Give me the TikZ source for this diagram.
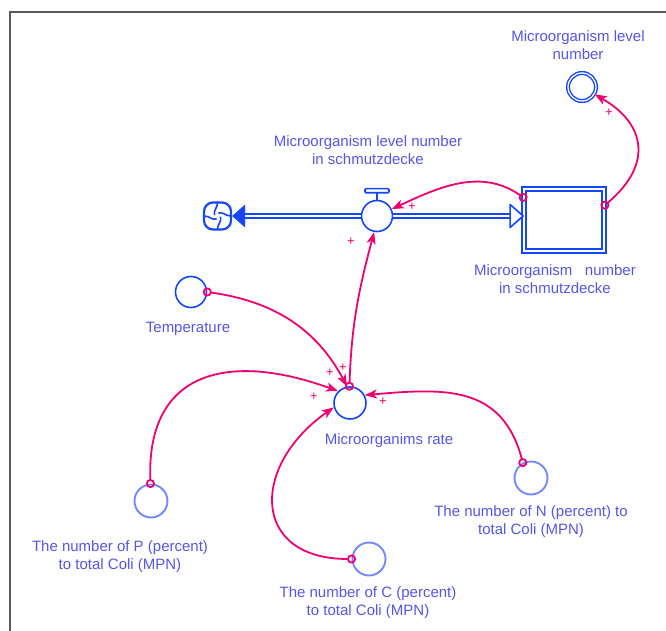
\documentclass[tikz,border=0pt]{standalone}
\usepackage{fontspec}
\setmainfont{Liberation Sans}
\usetikzlibrary{arrows.meta}
\definecolor{symblue}{RGB}{20,70,255}
\definecolor{txtblue}{RGB}{85,85,230}
\definecolor{shadowblue}{RGB}{115,135,255}
\definecolor{linkpink}{RGB}{240,0,110}

\begin{document}
\begin{tikzpicture}[
  x=1pt, y=1pt,
  font=\fontsize{15}{18}\selectfont,
  aux/.style={circle, draw=symblue, line width=1.6pt, fill=white, inner sep=0pt, minimum size=31pt},
  shadowvar/.style={circle, draw=shadowblue, line width=1.9pt, inner sep=0pt, minimum size=33pt},
  lab/.style={text=txtblue, align=center, inner sep=0pt},
  link/.style={draw=linkpink, line width=1.8pt, shorten <=-4.5pt,
    {Circle[open,length=9pt,width=9pt]}-{Stealth[length=12pt,width=9pt,inset=3pt]}},
  plus/.style={text=linkpink, font=\fontsize{13}{13}\selectfont, inner sep=0pt},
  pipe/.style={draw=symblue, line width=1.7pt, double=white, double distance=2.4pt}]

\useasboundingbox (0,0) rectangle (666,-631);
\draw[black!65, line width=1.5pt] (666,-12) -| (10,-631);

% stock, valve and cloud
\node[draw=symblue, line width=1.8pt, double=white, double distance=2pt, fill=white,
  minimum width=80pt, minimum height=62pt, inner sep=0pt] (stock) at (564,-220) {};
\node[aux] (valve) at (377,-216) {};
\node[draw=symblue, line width=2.2pt, rounded corners=9pt, minimum size=27pt, inner sep=0pt] (cloud) at (217.5,-216) {};
\foreach \a in {0,90,180,270}{
  \draw[symblue, line width=1.6pt] ([shift={(\a:13)}]cloud.center) to[out=\a+180, in=\a+20] ([shift={(\a+75:3)}]cloud.center);}

\draw[pipe] (valve.west) -- ([xshift=13pt]cloud.east);
\fill[symblue] (cloud.east) -- ++(13,11.5) -- ++(0,-23) -- cycle;
\draw[pipe] (valve.east) -- ([xshift=-13pt]valve.east -| stock.west);
\draw[symblue, line width=1.6pt, fill=white, line join=round] (valve.east -| stock.west) -- ++(-13,11.5) -- ++(0,-23) -- cycle;
\draw[symblue, line width=2.2pt] (valve.north) -- ++(0,8);
\draw[symblue, line width=1.6pt, fill=white, rounded corners=1pt] ([shift={(-12,7)}]valve.north) rectangle ([shift={(12,11)}]valve.north);

% variables
\node[draw=symblue, circle, line width=1.4pt, double=white, double distance=1.3pt, inner sep=0pt, minimum size=28pt] (lvl) at (582,-87) {};
\node[aux] (temp) at (191,-292) {};
\node[aux, minimum size=32pt] (rate) at (350,-403) {};
\node[shadowvar] (pnum) at (151,-501) {};
\node[shadowvar] (cnum) at (369,-559) {};
\node[shadowvar] (nnum) at (531,-478) {};

% labels
\node[lab] (lvllab) at (578,-45) {Microorganism level\\number};
\node[lab] (valvelab) at (368,-150) {Microorganism level number\\in schmutzdecke};
\node[lab] (stocklab) at (555,-279) {Microorganism\ \ \ number\\in schmutzdecke};
\node[lab] (templab) at (188,-329) {Temperature};
\node[lab] (ratelab) at (389,-441) {Microorganims rate};
\node[lab] (plab) at (120,-557) {The number of P (percent)\\to total Coli (MPN)};
\node[lab] (clab) at (368,-603) {The number of C (percent)\\to total Coli (MPN)};
\node[lab] (nlab) at (531,-522) {The number of N (percent) to\\total Coli (MPN)};

% links
\draw[link] (stock.20) to[out=40, in=-30, looseness=1.4] (lvl.-30);
\draw[link] (stock.151) to[out=145, in=25] (valve.25);
\draw[link] (rate.92) to[out=88, in=-105] (valve.-100);
\draw[link] (temp.0) to[out=-8, in=118] (rate.100);
\draw[link] (pnum.92) to[out=92, in=160, looseness=1.4] (rate.135);
\draw[link] (cnum.180) to[out=180, in=215, looseness=1.7] (rate.195);
\draw[link] (nnum.118) to[out=105, in=5, looseness=1.2] (rate.28);

% polarities
\node[plus] (p1) at (609,-113) {+};
\node[plus] (p2) at (412,-207) {+};
\node[plus] (p3) at (351,-242) {+};
\node[plus] (p4) at (330,-373) {+};
\node[plus] (p5) at (343,-368) {+};
\node[plus] (p6) at (314,-397) {+};
\node[plus] (p7) at (383,-402) {+};
\end{tikzpicture}
\end{document}
